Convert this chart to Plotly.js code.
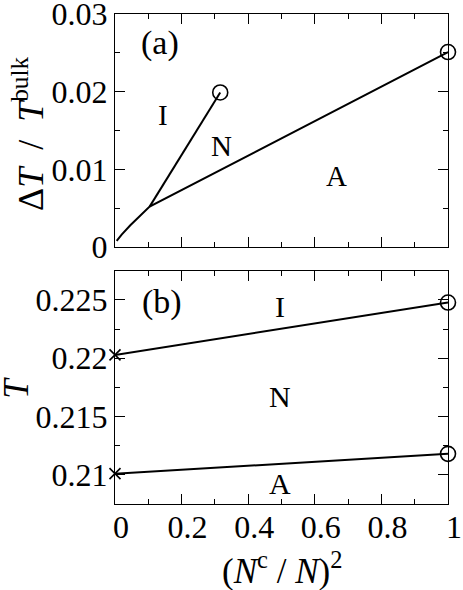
<!DOCTYPE html>
<html><head><meta charset="utf-8">
<script src="https://cdn.plot.ly/plotly-3.0.1.min.js"></script>
<style>html,body{margin:0;padding:0;background:#fff}</style>
</head><body><div id="chart" style="width:463px;height:590px"></div>
<script>
// ---- Panel (a): ΔT/T^bulk vs (Nc/N)^2 ----
const aIN_x = [0.104, 0.316];
const aIN_y = [0.0052, 0.0199];
const aNA_x = [0.005, 0.02, 0.046, 0.075, 0.104, 1.0];
const aNA_y = [0.0008, 0.0016, 0.0028, 0.0040, 0.0052, 0.0251];
// ---- Panel (b): T vs (Nc/N)^2 ----
const bIN_x = [0, 1];
const bIN_y = [0.22028, 0.22477];
const bNA_x = [0, 1];
const bNA_y = [0.2101, 0.2118];
// ---- tick labels ----
const xTickVals = [0, 0.2, 0.4, 0.6, 0.8, 1];
const xTickText = ['0', '0.2', '0.4', '0.6', '0.8', '1'];
const yaTickVals = [0, 0.01, 0.02, 0.03];
const yaTickText = ['0', '0.01', '0.02', '0.03'];
const ybTickVals = [0.21, 0.215, 0.22, 0.225];
const ybTickText = ['0.21', '0.215', '0.22', '0.225'];

const FONT = 'Liberation Serif, Times New Roman, serif';
const LINE = {color: 'black', width: 2};
const last = a => [a[a.length - 1]];
const first = a => [a[0]];
const circ = {symbol: 'circle-open', size: 15, color: 'black', line: {color: 'black', width: 1.6}};
const cross = {symbol: 'x-thin-open', size: 11, color: 'black', line: {color: 'black', width: 1.6}};

const traces = [
  {x: aIN_x, y: aIN_y, xaxis: 'x2', yaxis: 'y2', mode: 'lines', line: LINE, cliponaxis: false},
  {x: aNA_x, y: aNA_y, xaxis: 'x2', yaxis: 'y2', mode: 'lines', line: LINE, cliponaxis: false},
  {x: last(aIN_x).concat(last(aNA_x)), y: last(aIN_y).concat(last(aNA_y)), xaxis: 'x2', yaxis: 'y2', mode: 'markers', marker: circ, cliponaxis: false},
  {x: bIN_x, y: bIN_y, mode: 'lines', line: LINE, cliponaxis: false},
  {x: bNA_x, y: bNA_y, mode: 'lines', line: LINE, cliponaxis: false},
  {x: last(bIN_x).concat(last(bNA_x)), y: last(bIN_y).concat(last(bNA_y)), mode: 'markers', marker: circ, cliponaxis: false},
  {x: first(bIN_x).concat(first(bNA_x)), y: first(bIN_y).concat(first(bNA_y)), mode: 'markers', marker: cross, cliponaxis: false}
];

const minorTick = {ticks: 'inside', ticklen: 5, tickwidth: 1, tickcolor: 'black', tickmode: 'linear'};
const axBase = {
  showline: true, linecolor: 'black', linewidth: 1, mirror: 'ticks',
  ticks: 'inside', ticklen: 10, tickwidth: 1, tickcolor: 'black',
  showgrid: false, zeroline: false, ticklabeloverflow: 'allow',
  tickmode: 'array'
};
const tf = () => ({family: FONT, size: 32, color: 'black'});

const layout = {
  width: 463, height: 590,
  margin: {l: 115, r: 15, t: 14, b: 86},
  paper_bgcolor: 'white', plot_bgcolor: 'white',
  showlegend: false,
  font: {family: FONT, color: 'black', size: 32},
  xaxis: Object.assign({}, axBase, {
    anchor: 'y', domain: [0, 1], range: [0, 1],
    tickvals: xTickVals, ticktext: xTickText, tickfont: tf(), ticklabelshift: 6, ticklabelstandoff: -5,
    minor: Object.assign({}, minorTick, {tick0: 0, dtick: 0.1})
  }),
  xaxis2: Object.assign({}, axBase, {
    anchor: 'y2', domain: [0, 1], range: [0, 1], matches: 'x', showticklabels: false,
    tickvals: xTickVals, ticktext: xTickText,
    minor: Object.assign({}, minorTick, {tick0: 0, dtick: 0.1})
  }),
  yaxis: Object.assign({}, axBase, {
    anchor: 'x', domain: [0, 0.4761], range: [0.2075, 0.2275],
    tickvals: ybTickVals, ticktext: ybTickText, tickfont: tf(),
    minor: Object.assign({}, minorTick, {tick0: 0.2075, dtick: 0.0025})
  }),
  yaxis2: Object.assign({}, axBase, {
    anchor: 'x2', domain: [0.5245, 1], range: [0, 0.03],
    tickvals: yaTickVals, ticktext: yaTickText, tickfont: tf(),
    minor: Object.assign({}, minorTick, {tick0: 0, dtick: 0.005})
  }),
  annotations: [
    // axis titles
    {text: '(<i>N</i><sup>c</sup> / <i>N</i>)<sup>2</sup>', xref: 'paper', yref: 'paper', x: 0.5, y: -0.131,
     xanchor: 'center', yanchor: 'middle', showarrow: false, font: {family: FONT, size: 35}},
    {text: '<i>T</i>', xref: 'paper', yref: 'paper', x: -0.296, y: 0.238, xanchor: 'center', yanchor: 'middle',
     textangle: -90, showarrow: false, font: {family: FONT, size: 35}},
    {text: 'Δ<i>T</i>  /  <i>T</i><sup>bulk</sup>', xref: 'paper', yref: 'paper', x: -0.26, y: 0.756, xanchor: 'center', yanchor: 'middle',
     textangle: -90, showarrow: false, font: {family: FONT, size: 36}},
    // panel labels and phase labels
    {text: '(a)', x: 0.136, y: 0.0263, xref: 'x2', yref: 'y2', showarrow: false, font: {family: FONT, size: 34}},
    {text: 'I', x: 0.145, y: 0.0170, xref: 'x2', yref: 'y2', showarrow: false, font: {family: FONT, size: 29}},
    {text: 'N', x: 0.321, y: 0.0130, xref: 'x2', yref: 'y2', showarrow: false, font: {family: FONT, size: 29}},
    {text: 'A', x: 0.664, y: 0.0091, xref: 'x2', yref: 'y2', showarrow: false, font: {family: FONT, size: 29}},
    {text: '(b)', x: 0.141, y: 0.22485, xref: 'x', yref: 'y', showarrow: false, font: {family: FONT, size: 34}},
    {text: 'I', x: 0.496, y: 0.22443, xref: 'x', yref: 'y', showarrow: false, font: {family: FONT, size: 30}},
    {text: 'N', x: 0.496, y: 0.21671, xref: 'x', yref: 'y', showarrow: false, font: {family: FONT, size: 30}},
    {text: 'A', x: 0.496, y: 0.20929, xref: 'x', yref: 'y', showarrow: false, font: {family: FONT, size: 30}}
  ]
};

Plotly.newPlot('chart', traces, layout, {displayModeBar: false, staticPlot: true});
</script>
</body></html>
